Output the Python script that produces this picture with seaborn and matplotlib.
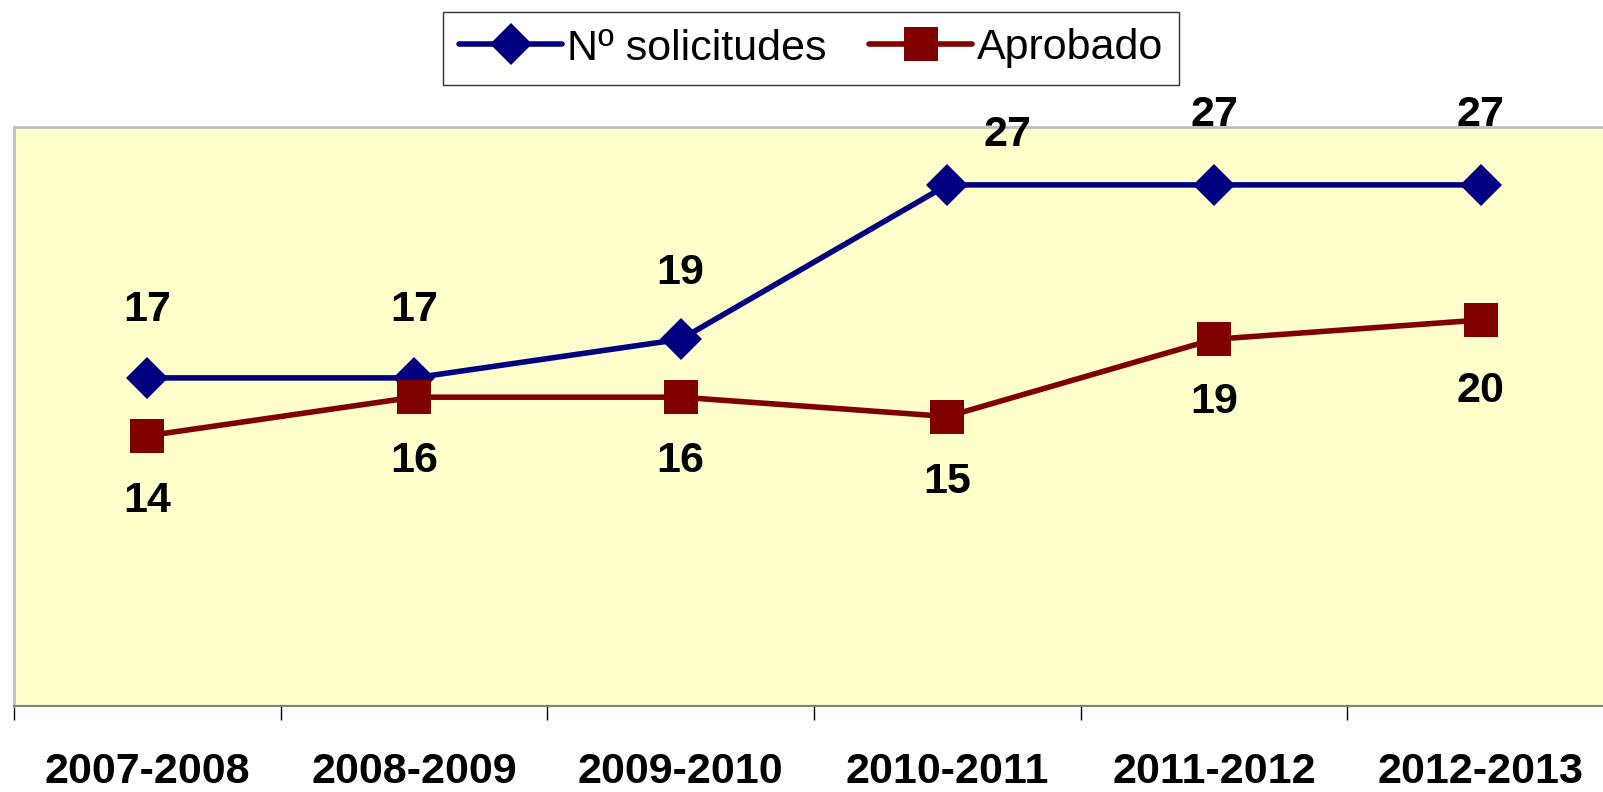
import pandas as pd
import seaborn as sns
import matplotlib.pyplot as plt

sns.set_style('white')
plt.rcParams['font.family'] = ['Liberation Sans', 'DejaVu Sans']
plt.rcParams['text.color'] = 'black'
plt.rcParams['xtick.color'] = 'black'

# Data
cursos = ['2007-2008', '2008-2009', '2009-2010', '2010-2011', '2011-2012', '2012-2013']
solicitudes = [17, 17, 19, 27, 27, 27]
aprobado = [14, 16, 16, 15, 19, 20]

df = pd.DataFrame({'pos': range(len(cursos)), 'curso': cursos,
                   'solicitudes': solicitudes, 'aprobado': aprobado})

fig = plt.figure(figsize=(16.03, 7.92), dpi=100)
ax = fig.add_axes([14 / 1603, 86 / 792, 1600 / 1603, 579 / 792])
ax.set_facecolor('#FFFFCC')

sns.lineplot(ax=ax, data=df, x='pos', y='solicitudes', color='#000080', lw=4,
             marker='D', markersize=21, markeredgewidth=0, label='Nº solicitudes')
sns.lineplot(ax=ax, data=df, x='pos', y='aprobado', color='#800000', lw=4,
             marker='s', markersize=25, markeredgewidth=0, label='Aprobado')

# data labels (offsets in points)
up_off = [(0, 49), (0, 49), (0, 48), (43, 36), (0, 50), (0, 50)]
for i, v in enumerate(solicitudes):
    ax.annotate(str(v), (i, v), xytext=up_off[i], textcoords='offset points',
                ha='center', va='center', fontsize=31, fontweight='bold', color='black')
dn_off = [(0, -47), (0, -46), (0, -46), (0, -47), (0, -45), (0, -51)]
for i, v in enumerate(aprobado):
    ax.annotate(str(v), (i, v), xytext=dn_off[i], textcoords='offset points',
                ha='center', va='center', fontsize=31, fontweight='bold', color='black')

ax.set_xlim(-0.5, len(cursos) - 0.5)
ax.set_ylim(0, 30)
ax.set_yticks([])
ax.set_xticks(range(len(cursos)))
ax.set_xticklabels(cursos, fontsize=31, fontweight='bold', color='black')
ax.set_xticks([i - 0.5 for i in range(len(cursos) + 1)], minor=True)
ax.tick_params(axis='x', which='major', length=0, pad=33)
ax.tick_params(axis='x', which='minor', length=10, width=1, color='black', bottom=True)
ax.set_xlabel('')
ax.set_ylabel('')

for s in ['left', 'top', 'right']:
    ax.spines[s].set_color('#C0C0C0')
    ax.spines[s].set_linewidth(2)
ax.spines['bottom'].set_color('#808080')
ax.spines['bottom'].set_linewidth(1.5)

ax.get_legend().remove()
handles, labels = ax.get_legend_handles_labels()
leg = fig.legend(handles, labels, loc='center', bbox_to_anchor=(811 / 1603, 1 - 48.5 / 792),
                 ncol=2, fontsize=31, frameon=True, fancybox=False, edgecolor='black',
                 handlelength=2.4, handletextpad=0.1, columnspacing=1.0,
                 borderpad=0.38)
leg.get_frame().set_linewidth(1)
for t in leg.get_texts():
    t.set_color('black')

plt.savefig('out.png', dpi=100)
